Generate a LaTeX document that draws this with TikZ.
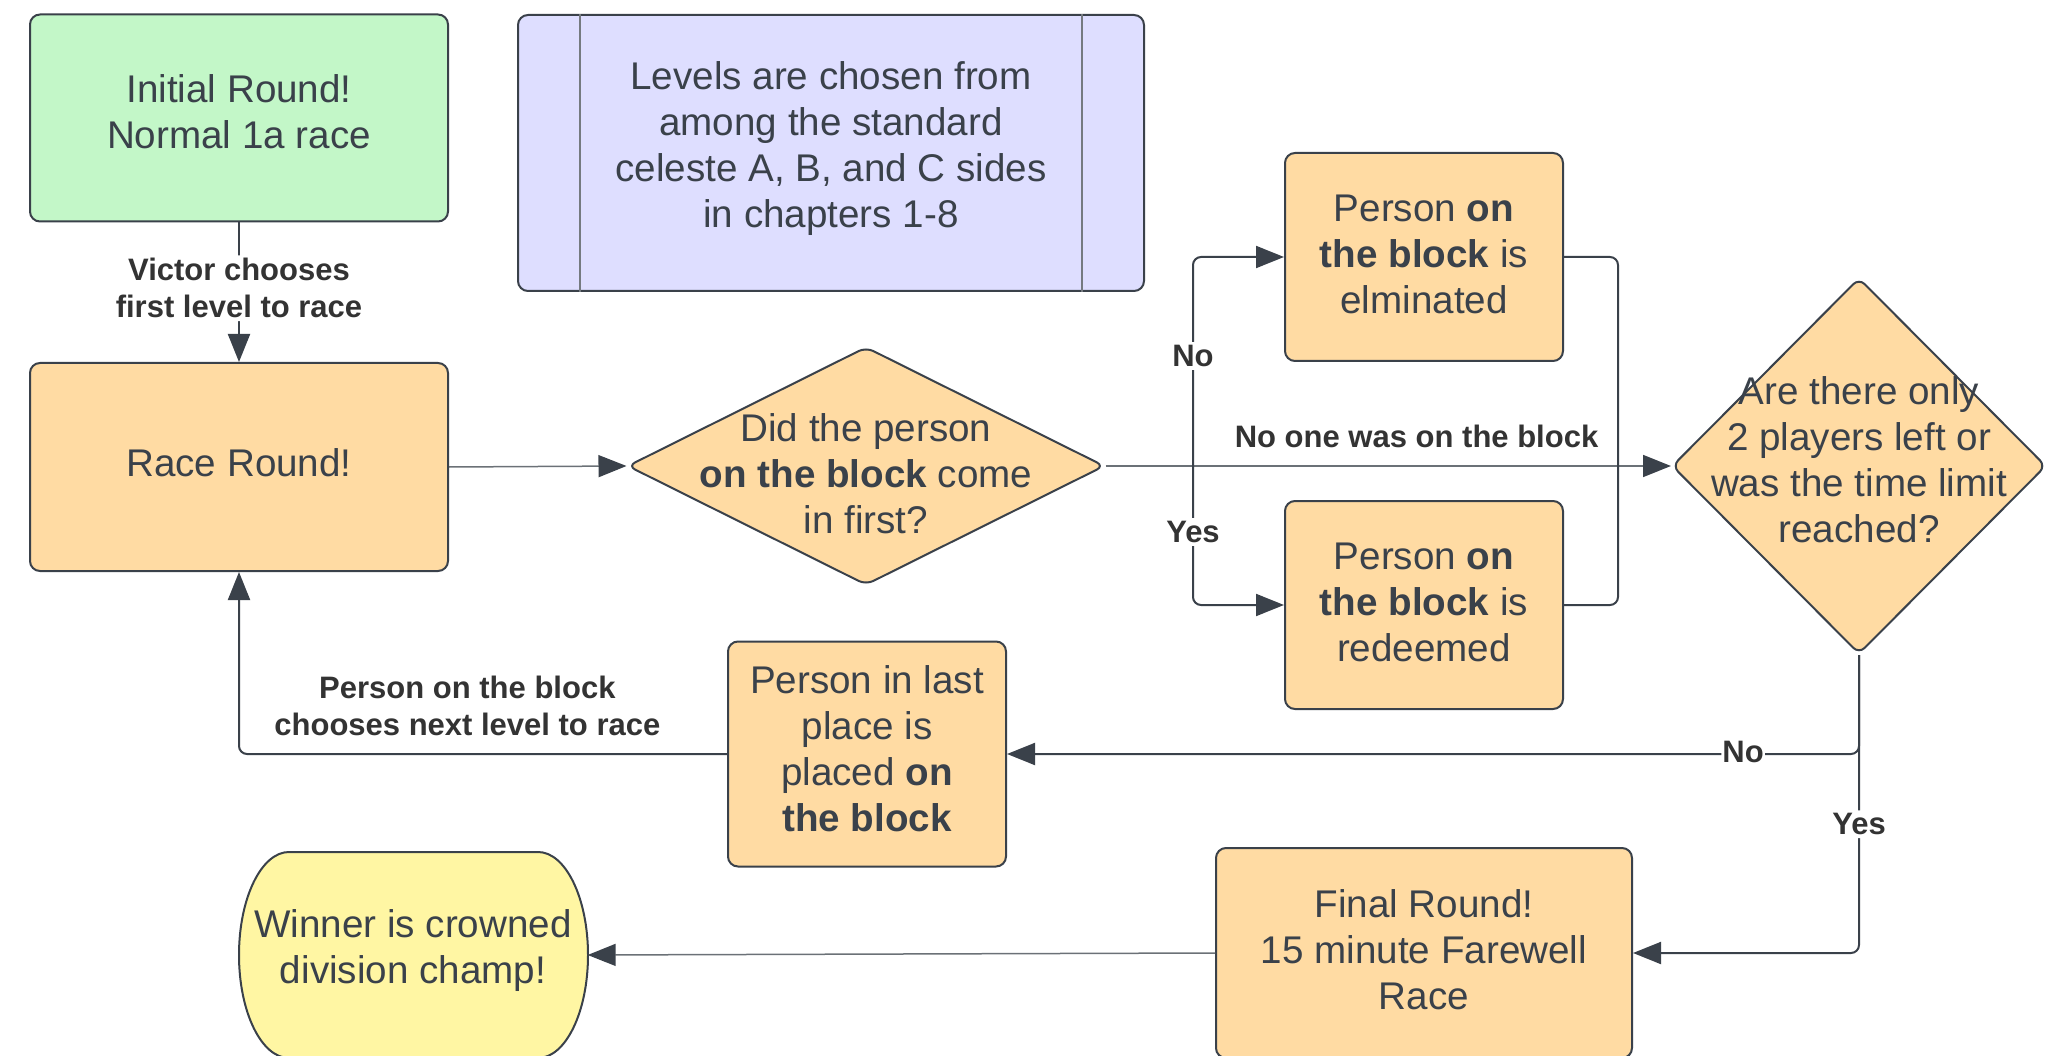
\documentclass[tikz,border=0pt]{standalone}
\usepackage{fontspec}
\setmainfont{Liberation Sans}
\usetikzlibrary{shapes.geometric,arrows.meta}
\definecolor{edge}{HTML}{3A414A}
\definecolor{txt}{HTML}{3A414A}
\definecolor{gfill}{HTML}{C3F7C8}
\definecolor{bfill}{HTML}{DEDEFF}
\definecolor{ofill}{HTML}{FFDBA3}
\definecolor{yfill}{HTML}{FFF6A3}
\definecolor{lblc}{HTML}{333333}
\tikzset{
 box/.style={draw=edge, line width=2pt, rounded corners=10pt, inner sep=0pt},
 dshape/.style={draw=edge, line width=2pt, diamond, fill=ofill, rounded corners=8pt, inner sep=0pt},
 ntext/.style={text=txt, align=center, font=\fontsize{38.6}{46}\selectfont, inner sep=0pt},
 conn/.style={draw=edge, line width=2pt, rounded corners=8pt, -{Triangle[length=28pt,width=22pt]}},
 thinconn/.style={draw=edge!75, line width=1.5pt, -{Triangle[length=28pt,width=22pt,color=edge]}},
 plainline/.style={draw=edge, line width=2pt, rounded corners=8pt},
 elabel/.style={text=lblc, font=\fontsize{31}{37}\selectfont\bfseries, align=center, inner sep=3pt},
}
\begin{document}
\begin{tikzpicture}[x=1pt,y=-1pt]
\useasboundingbox (0,0) rectangle (2067,1056);

% boxes
\node[box, fill=gfill, minimum width=418pt, minimum height=207pt] (init) at (239,118) {};
\node[ntext] (initt) at ([yshift=6pt]init.center) {Initial Round!\\Normal 1a race};

\node[box, fill=bfill, minimum width=626pt, minimum height=276pt] (note) at (831,153) {};
\node[ntext] (notet) at ([yshift=4pt]note.center)
  {Levels are chosen from\\among the standard\\celeste A, B, and C sides\\in chapters 1-8};
\draw[edge!70, line width=1.2pt] ([xshift=63pt]note.north west) -- ([xshift=63pt]note.south west);
\draw[edge!70, line width=1.2pt] ([xshift=-63pt]note.north east) -- ([xshift=-63pt]note.south east);

\node[box, fill=ofill, minimum width=418pt, minimum height=208pt] (race) at (239,467) {};
\node[ntext] (racet) at ([yshift=4pt]race.center) {Race Round!};

\node[dshape, minimum width=477pt, minimum height=238pt] (d1) at (866,466) {};
\node[ntext] (d1t) at (866,474) {Did the person\\\textbf{on the block} come\\in first?};

\node[box, fill=ofill, minimum width=278pt, minimum height=208pt] (elim) at (1424,257) {};
\node[ntext] (elimt) at ([yshift=3pt]elim.center) {Person \textbf{on}\\\textbf{the block} is\\elminated};
\node[box, fill=ofill, minimum width=278pt, minimum height=208pt] (redeem) at (1424,605) {};
\node[ntext] (redeemt) at ([yshift=3pt]redeem.center) {Person \textbf{on}\\\textbf{the block} is\\redeemed};

\node[dshape, minimum width=374pt, minimum height=376pt] (d2) at (1859,466) {};
\node[ntext] (d2t) at (1859,460) {Are there only\\2 players left or\\was the time limit\\reached?};

\node[box, fill=ofill, minimum width=278pt, minimum height=225pt] (last) at (867,754) {};
\node[ntext] (lastt) at ([yshift=5pt]last.center) {Person in last\\place is\\placed \textbf{on}\\\textbf{the block}};

\node[box, fill=ofill, minimum width=416pt, minimum height=210pt] (final) at (1424,953) {};
\node[ntext] (finalt) at ([yshift=3pt]final.center) {Final Round!\\15 minute Farewell\\Race};

\draw[draw=edge, line width=2pt, fill=yfill] (289,852) -- (538,852)
  arc[start angle=90, end angle=0, x radius=50pt, y radius=103pt]
  arc[start angle=0, end angle=-90, x radius=50pt, y radius=103pt]
  -- (289,1058)
  arc[start angle=270, end angle=180, x radius=50pt, y radius=103pt]
  arc[start angle=180, end angle=90, x radius=50pt, y radius=103pt] -- cycle;
\node[minimum width=349pt, minimum height=206pt, inner sep=0pt] (win) at (413,955) {};
\node[ntext] (wint) at (413,951) {Winner is crowned\\division champ!};

% junction coordinates
\coordinate (j1) at (1193,467);
\coordinate (j2) at (1618,467);

% connectors
\draw[conn] (init.south) -- node[elabel, fill=white, yshift=4pt] {Victor chooses\\first level to race} (race.north);
\draw[thinconn] (race.east) -- (d1.west);
\draw[thinconn] (d1.east) -- node[elabel, pos=0.55, above=14pt] {No one was on the block} (d2.west);
\draw[conn] (j1) |- node[elabel, pos=0.25, fill=white, yshift=6pt] {No} (elim.west);
\draw[conn] (j1) |- node[elabel, pos=0.25, fill=white, yshift=4pt] {Yes} (redeem.west);
\draw[plainline] (elim.east) -| (j2);
\draw[plainline] (redeem.east) -| (j2);
\draw[conn] (d2.south) |- node[elabel, pos=0.568, fill=white, inner sep=1pt, yshift=2pt] {No} (last.east);
\draw[conn] (d2.south) |- node[elabel, pos=0.284, fill=white] {Yes} (final.east);
\draw[conn] (last.west) -| node[elabel, pos=0.266, yshift=48pt] {Person on the block\\chooses next level to race} (race.south);
\draw[thinconn] (final.west) -- (win.east);
\end{tikzpicture}
\end{document}
